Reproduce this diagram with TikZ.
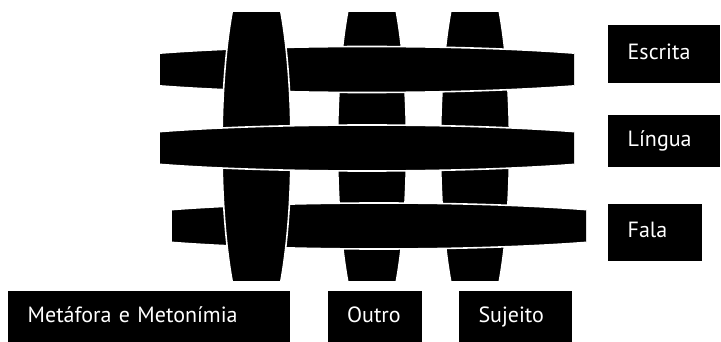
\documentclass[tikz,border=0pt]{standalone}
\usepackage{fontspec}
\setmainfont{PT Sans}
\usetikzlibrary{positioning}

\tikzset{
  strand/.style={fill=black, draw=white, line width=1.6pt},
  tag/.style={fill=black, text=white, anchor=north west, align=left,
    inner xsep=19.5pt, inner ysep=0pt, text height=15pt, text depth=4pt,
    font=\fontsize{22}{22}\selectfont}
}
\newcommand{\vstrand}[1]{%
  \begin{scope}
    \clip (#1-40,13) rectangle (#1+40,280);
    \path[strand] (#1,146.5) ellipse [x radius=34.5, y radius=190];
  \end{scope}}
\newcommand{\hstrand}[2]{%
  \begin{scope}
    \clip (#1-207,#2-30) rectangle (#1+207,#2+30);
    \path[strand] (#1,#2) ellipse [x radius=295, y radius=23];
  \end{scope}}

\begin{document}
\begin{tikzpicture}[x=1pt, y=-1pt]
    \useasboundingbox (0,0) rectangle (721,342);

    \vstrand{372}
    \vstrand{475}
    \hstrand{367}{69.5}
    \hstrand{379}{226}
    \vstrand{256.5}
    \hstrand{367}{148}

    \node[tag, text width=73pt, minimum height=58pt] (escrita) at (608,25) {Escrita};
    \node[tag, text width=73pt, minimum height=52pt, below right=31pt and 0pt of escrita.south west] (lingua) {Língua};
    \node[tag, text width=55pt, minimum height=57pt, below right=37pt and 0pt of lingua.south west] (fala) {Fala};

    \node[tag, text width=243pt, minimum height=51pt] (metafora) at (8,291) {Metáfora e Metonímia};
    \node[tag, text width=55pt, minimum height=51pt, right=37pt of metafora] (outro) {Outro};
    \node[tag, text width=74pt, minimum height=51pt, right=37pt of outro] (sujeito) {Sujeito};
\end{tikzpicture}
\end{document}
